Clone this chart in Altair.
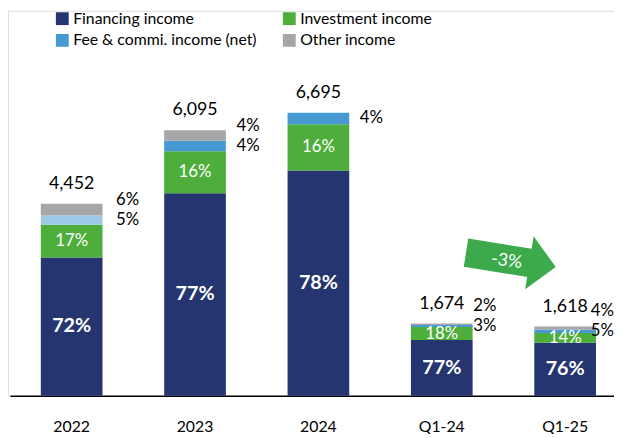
import altair as alt
import pandas as pd

# ---------------- data ----------------
periods = ["2022", "2023", "2024", "Q1-24", "Q1-25"]
totals = [4452, 6095, 6695, 1674, 1618]
series = ["Financing income", "Investment income", "Fee & commi. income (net)", "Other income"]
share_financing = [72, 77, 78, 77, 76]
share_investment = [17, 16, 16, 18, 14]
share_fee = [5, 4, 4, 3, 5]
share_other = [6, 4, 0, 2, 4]

# ---------------- style ----------------
FONT = "Lato"
NAVY = "#243570"
GREEN = "#4DAE3B"
BLUE = "#4699D1"
LIGHT_BLUE = "#9DC8E6"
GRAY = "#A6A6A8"
ARROW_GREEN = "#3CAA4A"
series_colors = {series[0]: NAVY, series[1]: GREEN, series[2]: BLUE, series[3]: GRAY}
# legend fills column by column: this order gives rows "Financing | Investment", "Fee | Other"
legend_order = [series[0], series[2], series[1], series[3]]
SIDE_DX = {"2022": 45, "2023": 42, "2024": 42, "Q1-24": 32, "Q1-25": 26}
LABEL_GAP = 460  # min vertical gap between the two side labels (data units)

# ---------------- tables ----------------
shares = [share_financing, share_investment, share_fee, share_other]
rows = []
for i, p in enumerate(periods):
    base = 0.0
    for s, sh in zip(series, shares):
        v = totals[i] * sh[i] / 100.0
        rows.append(dict(period=p, series=s, share=sh[i], y0=base, y1=base + v,
                         mid=base + v / 2, pct=f"{sh[i]}%"))
        base += v
df = pd.DataFrame(rows)

tot_rows = []
side_rows = []
for i, p in enumerate(periods):
    d = df[df.period == p].set_index("series")
    tot_rows.append(dict(period=p, top=d["y1"].max(), label=f"{totals[i]:,}"))
    fee_mid = d.loc[series[2], "mid"]
    side_rows.append(dict(period=p, y=fee_mid, label=d.loc[series[2], "pct"]))
    if d.loc[series[3], "share"] > 0:
        oy = max(d.loc[series[3], "mid"], fee_mid + LABEL_GAP)
        side_rows.append(dict(period=p, y=oy, label=d.loc[series[3], "pct"]))
df_tot = pd.DataFrame(tot_rows)
df_side = pd.DataFrame(side_rows)

change = (totals[4] / totals[3] - 1) * 100
df_arrow = pd.DataFrame({"pos": [3.56], "y": [3150], "label": [f"{change:.0f}%"]})

Y_DOMAIN = [0, 8925]
X_RANGE = [2, 627]


def xband(axis=False):
    if axis:
        ax = alt.Axis(title=None, labelAngle=0, ticks=False, domainColor="black",
                      domainWidth=1.5, labelFont=FONT, labelFontSize=16,
                      labelColor="black", labelPadding=23)
    else:
        ax = None
    return alt.X("period:N", sort=periods,
                 scale=alt.Scale(domain=periods, range=X_RANGE,
                                 paddingInner=0.5, paddingOuter=0.25),
                 axis=ax)


yscale = alt.Scale(domain=Y_DOMAIN, nice=False, zero=True)

bars = alt.Chart(df).mark_bar().encode(
    x=xband(True),
    y=alt.Y("y0:Q", scale=yscale, axis=None),
    y2="y1:Q",
    color=alt.condition(
        (alt.datum.period == "2022") & (alt.datum.series == series[2]),
        alt.value(LIGHT_BLUE),
        alt.Color("series:N",
                  scale=alt.Scale(domain=legend_order,
                                  range=[series_colors[s] for s in legend_order]),
                  legend=alt.Legend(title=None, orient="none", legendX=47, legendY=0,
                                    columns=2, symbolType="square", symbolSize=169,
                                    symbolStrokeWidth=0, labelFont=FONT,
                                    labelFontSize=16, labelColor="black",
                                    labelOffset=3, rowPadding=6, columnPadding=25,
                                    padding=0, labelLimit=400)),
    ),
)

inner_fin = alt.Chart(df[df.series == series[0]]).mark_text(
    font=FONT, fontSize=20, fontWeight="bold", color="white", baseline="middle"
).encode(x=xband(), y=alt.Y("mid:Q", scale=yscale, axis=None), text="pct:N")

inner_inv = alt.Chart(df[df.series == series[1]]).mark_text(
    font=FONT, fontSize=17, color="white", baseline="middle"
).encode(x=xband(), y=alt.Y("mid:Q", scale=yscale, axis=None), text="pct:N")

tot_text = alt.Chart(df_tot).mark_text(
    font=FONT, fontSize=18, color="black", baseline="middle", dy=-20
).encode(x=xband(), y=alt.Y("top:Q", scale=yscale, axis=None), text="label:N")

side_layers = []
for p in periods:
    side_layers.append(
        alt.Chart(df_side[df_side.period == p]).mark_text(
            font=FONT, fontSize=17, color="black", baseline="middle", align="left",
            dx=SIDE_DX[p]
        ).encode(x=xband(), y=alt.Y("y:Q", scale=yscale, axis=None), text="label:N")
    )

ARROW_PATH = "M-1,-0.315 L0.413,-0.315 L0.413,-0.593 L1,0 L0.413,0.593 L0.413,0.315 L-1,0.315 Z"
xq = alt.X("pos:Q", scale=alt.Scale(domain=[-0.5, 4.5], range=X_RANGE, nice=False, zero=False),
           axis=None)
arrow = alt.Chart(df_arrow).mark_point(
    shape=ARROW_PATH, filled=True, color=ARROW_GREEN, opacity=1, size=8464, angle=9,
    strokeWidth=0
).encode(x=xq, y=alt.Y("y:Q", scale=yscale, axis=None))

arrow_text = alt.Chart(df_arrow).mark_text(
    font=FONT, fontSize=18, color="white", baseline="middle", angle=8, dx=-4, dy=2
).encode(x=xq, y=alt.Y("y:Q", scale=yscale, axis=None), text="label:N")

chart = alt.layer(
    bars, inner_fin, inner_inv, tot_text, *side_layers, arrow, arrow_text
).resolve_scale(x="independent").properties(
    width=614, height=390, autosize="none",
    padding={"left": 0, "top": 0, "right": 0, "bottom": 36},
).configure_view(stroke=None).configure(background="white")

chart.save("out.html", embed_options={"renderer": "svg", "actions": False})
